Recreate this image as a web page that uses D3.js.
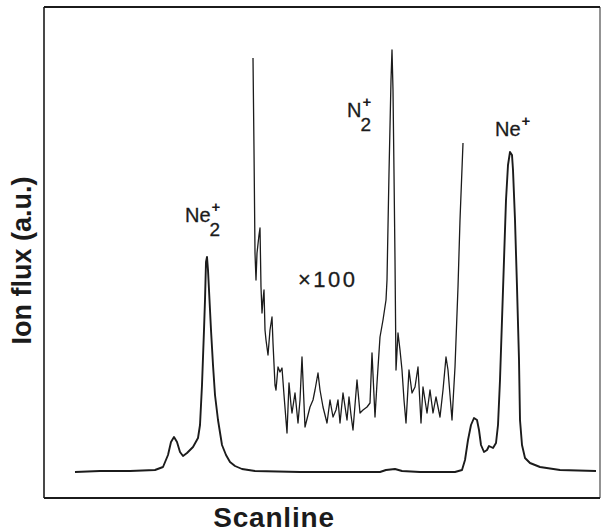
<!DOCTYPE html>
<html><head><meta charset="utf-8">
<script src="https://cdn.jsdelivr.net/npm/d3@7"></script>
<style>body{margin:0;background:#fff}svg{display:block}</style>
</head><body><div id="chart"></div>
<script>
// Scan position (channel) and ion flux (a.u.)
const mainScan = [31,56,86,111,119,124,127,130,133,136,139,143,149,154,156,158,160,161,162,163,164,165,167,169,171,174,178,182,186,191,198,211,256,336,342,351,358,376,411,418,421,424,427,430,433,435,437,440,443,445,447,449,452,454,456,458,460,462,464,466,468,469,471,473,475,476,478,481,486,496,516,552];
const mainFlux = [5.2,5.4,5.4,5.6,6.2,8.6,11.2,12.2,11.2,9.2,8.4,9,10.2,12,14.6,22.6,33.6,39.6,47.2,48.2,45.6,41.6,33.6,26.6,20.6,15.6,10.6,8.6,7.2,6.4,5.8,5.4,5.2,5.2,5.6,5.8,5.4,5.2,5.2,5.6,7.6,11.6,14.6,16,15.6,13.6,10.6,9.2,9.6,10.4,10.2,10,11,14.6,23.6,35.6,47.6,59.6,66.6,69.2,68.6,65.6,55.6,42.2,27.6,15.6,10.6,8,7,6.2,5.6,5.4];

// x100 magnified trace
const zoomScan = [209,210,211,212,213,215,216,217,218,219,220,221,222,224,226,228,229,231,232,234,236,238,240,243,245,247,248,251,254,256,258,261,264,266,269,271,274,276,279,283,286,289,292,294,296,299,303,305,307,309,313,316,319,323,326,328,331,333,336,339,342,343,345,347,348,349,350,351,352,354,356,358,360,362,365,368,371,374,377,379,383,386,389,392,396,399,402,404,408,411,414,416,419];
const zoomFlux = [88,69.6,49,43.6,49,52.6,54,42.2,37,39.6,41.6,33.6,31.6,28.6,33.6,36.2,31,22.6,21.6,26.2,25.2,26,20.6,13,23,18.6,17,21,15,19.6,28.2,14.2,16.6,18.2,19.6,21.6,25,21.6,18.2,15,19.6,16.2,17.6,19.6,15,21,15.6,20.2,16.6,13.6,23.6,17,17.6,18.2,19,29,16.2,23,32.2,35.6,39.6,43.6,65,83.6,89.6,81.6,65,47.6,25.6,33,29.6,25.6,19.6,15,25.6,21,22.2,26.2,15,22.2,17,21.6,17,20.2,16.2,21.6,28.2,25.6,15.6,26.2,42.2,55.6,71];

// Peak labels: main text, subscript, superscript, anchor (scan, flux)
const labelMain = ["Ne", "N", "Ne"];
const labelSub  = ["2", "2", ""];
const labelSup  = ["+", "+", "+"];
const labelScan = [141, 303, 451];
const labelFlux = [55.2, 76.2, 72.4];
const factorText = "×100";
const factorScan = 254, factorFlux = 42.2;

const xLabel = "Scanline";
const yLabel = "Ion flux (a.u.)";

const W = 602, H = 532;
const m = {left: 44, right: 2, top: 7, bottom: 34};
const svg = d3.select("#chart").append("svg").attr("width", W).attr("height", H);

const x = d3.scaleLinear().domain([0, 556]).range([m.left, W - m.right]);
const y = d3.scaleLinear().domain([0, 98.2]).range([H - m.bottom, m.top]);

const ink = "#1b1b1b";
const font = "'Liberation Sans', Arial, Helvetica, sans-serif";

// frame
svg.append("line").attr("x1", x(0)).attr("x2", x(556)).attr("y1", y(98.2)).attr("y2", y(98.2)).attr("stroke", ink).attr("stroke-width", 2);
svg.append("line").attr("x1", x(0)).attr("x2", x(556)).attr("y1", y(0)).attr("y2", y(0)).attr("stroke", ink).attr("stroke-width", 2);
svg.append("line").attr("x1", x(0)).attr("x2", x(0)).attr("y1", y(0)).attr("y2", y(98.2)).attr("stroke", ink).attr("stroke-width", 1.6);
svg.append("line").attr("x1", x(556)).attr("x2", x(556)).attr("y1", y(0)).attr("y2", y(98.2)).attr("stroke", ink).attr("stroke-width", 1.2).attr("stroke-opacity", 0.8);

const line = d3.line().x(d => x(d[0])).y(d => y(d[1])).curve(d3.curveLinear);

svg.append("path").datum(mainScan.map((s, i) => [s, mainFlux[i]]))
  .attr("d", line).attr("fill", "none").attr("stroke", ink).attr("stroke-width", 1.9).attr("stroke-linejoin", "round");
svg.append("path").datum(zoomScan.map((s, i) => [s, zoomFlux[i]]))
  .attr("d", line).attr("fill", "none").attr("stroke", ink).attr("stroke-width", 1.3).attr("stroke-linejoin", "round");

// labels
labelMain.forEach((t, i) => {
  const g = svg.append("g").attr("transform", `translate(${x(labelScan[i])},${y(labelFlux[i])})`);
  const tx = g.append("text").attr("font-family", font).attr("font-size", 20).attr("fill", ink).attr("stroke", ink).attr("stroke-width", 0.3).text(t);
  const w = tx.node().getComputedTextLength();
  if (labelSup[i]) g.append("text").attr("x", w + 1).attr("y", -10).attr("font-family", font).attr("font-size", 15).attr("font-weight", "bold").attr("fill", ink).text(labelSup[i]);
  if (labelSub[i]) g.append("text").attr("x", w - 1).attr("y", 14).attr("font-family", font).attr("font-size", 19).attr("fill", ink).attr("stroke", ink).attr("stroke-width", 0.3).text(labelSub[i]);
});

svg.append("text").attr("x", x(factorScan)).attr("y", y(factorFlux))
  .attr("font-family", font).attr("font-size", 22).attr("letter-spacing", 2.5).attr("fill", ink).attr("stroke", ink).attr("stroke-width", 0.3).text(factorText);

svg.append("text").attr("x", (x(0) + x(556)) / 2 - 48).attr("y", H - 5)
  .attr("text-anchor", "middle").attr("font-family", font).attr("font-weight", "bold").attr("font-size", 28).attr("letter-spacing", 0.8).attr("fill", ink).text(xLabel);

svg.append("text").attr("transform", `translate(31,${(y(0) + y(98.2)) / 2 + 8}) rotate(-90)`)
  .attr("text-anchor", "middle").attr("font-family", font).attr("font-weight", "bold").attr("font-size", 27).attr("fill", ink).text(yLabel);
</script></body></html>
